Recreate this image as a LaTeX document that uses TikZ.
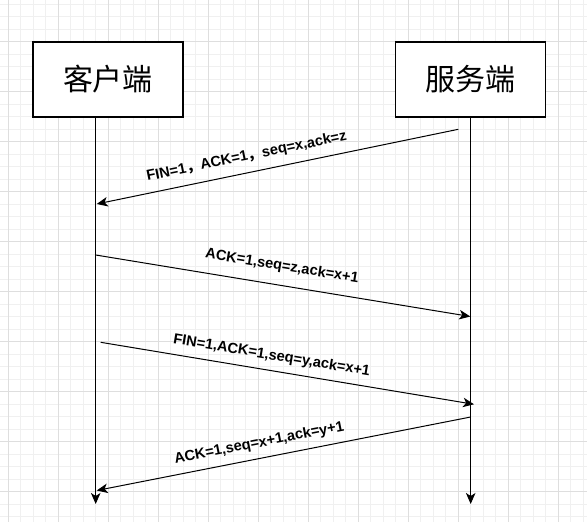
\documentclass[tikz,border=0pt]{standalone}
\usepackage{fontspec}
\setmainfont{Liberation Sans}
\newfontfamily\cjk{Noto Sans CJK SC}
\usetikzlibrary{arrows.meta,calc}
\definecolor{gridminor}{HTML}{F0F0F0}
\definecolor{gridmajor}{HTML}{DEDEDE}
\tikzset{
  gminor/.style={draw=gridminor, line width=0.8pt},
  gmajor/.style={draw=gridmajor, line width=0.8pt},
  actor/.style={draw=black, line width=1.3pt, fill=white, minimum width=150pt, minimum height=75pt, inner sep=0pt,
    font=\cjk\fontsize{30}{32}\selectfont},
  life/.style={draw=black, line width=1pt, -{Stealth[length=11pt,width=9.5pt,inset=3pt]}},
  msg/.style={draw=black, line width=1pt, -{Stealth[length=11pt,width=9.5pt,inset=3pt]}},
  lbl/.style={inner sep=0pt, font=\bfseries\fontsize{14.6}{17}\selectfont},
}
\begin{document}
\begin{tikzpicture}[x=1pt,y=-1pt]
\useasboundingbox[fill=white] (0,0) rectangle (587,522);
% grid
\foreach \i in {0,...,46} \draw[gminor] ({8.333+12.5*\i},0) -- ({8.333+12.5*\i},522);
\foreach \i in {0,...,41} \draw[gminor] (0,{4.167+12.5*\i}) -- (587,{4.167+12.5*\i});
\foreach \i in {0,...,11} \draw[gmajor] ({8.333+50*\i},0) -- ({8.333+50*\i},522);
\foreach \i in {0,...,9} \draw[gmajor] (0,{41.667+50*\i}) -- (587,{41.667+50*\i});
% actors
\node[actor] (client) at (108,79.5) {客户端};
\node[actor] (server) at (470.7,79.5) {服务端};
% lifelines
\coordinate (cEnd) at (95.7,504);
\coordinate (sEnd) at (470.7,504);
\draw[life] (client.south -| cEnd) -- (cEnd);
\draw[life] (server.south) -- (sEnd);
% messages
\coordinate (m1s) at (458.3,129.3);
\coordinate (m1e) at (96.7,204);
\coordinate (m2s) at (95.7,255);
\coordinate (m2e) at (470.3,316.5);
\coordinate (m3s) at (100.7,342.3);
\coordinate (m3e) at (474,404.3);
\coordinate (m4s) at (470.7,417);
\coordinate (m4e) at (96.7,490.5);
\draw[msg] (m1s) -- (m1e);
\draw[msg] (m2s) -- (m2e);
\draw[msg] (m3s) -- (m3e);
\draw[msg] (m4s) -- (m4e);
% labels
\node[lbl, rotate=11.55] (l1) at (246.7,156.7) {FIN=1{\cjk ，}ACK=1{\cjk ，}seq=x,ack=z};
\node[lbl, rotate=-9.26] (l2) at (282,266.5) {ACK=1,seq=z,ack=x+1};
\node[lbl, rotate=-9.41] (l3) at (271.7,355.8) {FIN=1,ACK=1,seq=y,ack=x+1};
\node[lbl, rotate=11.05] (l4) at (259.2,443.3) {ACK=1,seq=x+1,ack=y+1};
\end{tikzpicture}
\end{document}
